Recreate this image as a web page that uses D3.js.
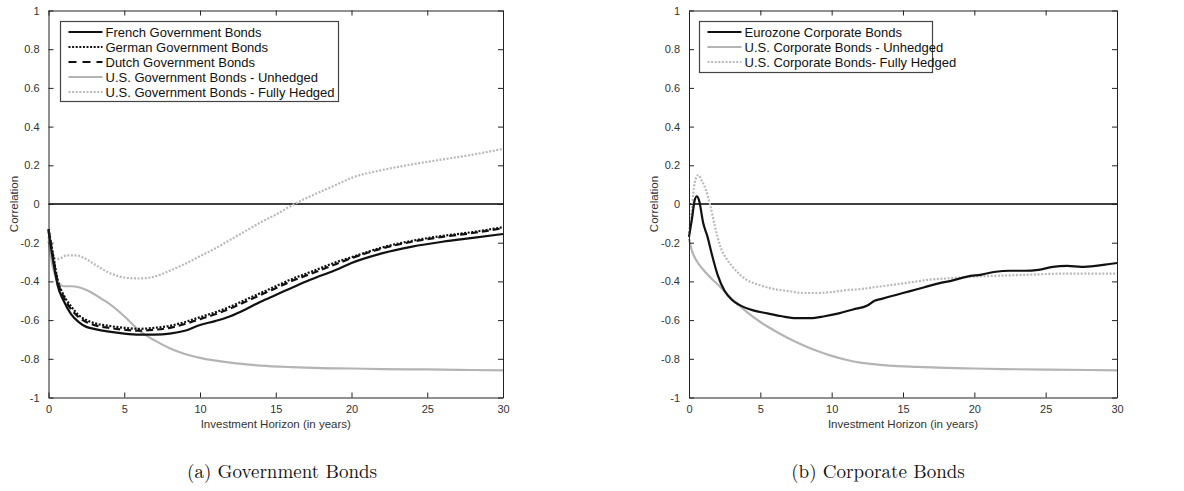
<!DOCTYPE html>
<html><head><meta charset="utf-8">
<script src="https://cdn.jsdelivr.net/npm/d3@7"></script>
<style>
html,body{margin:0;padding:0;background:#fff;}
svg{display:block;}
</style></head>
<body>
<svg id="chart" width="1184" height="491"></svg>
<script>
// ---------- data ----------
const xTicks = [0, 5, 10, 15, 20, 25, 30];
const yTicks = [1, 0.8, 0.6, 0.4, 0.2, 0, -0.2, -0.4, -0.6, -0.8, -1];
const yTickLabels = ["1", "0.8", "0.6", "0.4", "0.2", "0", "-0.2", "-0.4", "-0.6", "-0.8", "-1"];

// (a) Government bonds
const govX = [0, 0.3, 0.6, 1.0, 1.5, 2, 2.5, 3, 4, 5, 6, 7, 8, 9, 10, 11, 12, 13, 14, 15, 16, 17, 18, 19, 20, 22, 24, 26, 28, 30];
const frenchGov = [-0.14, -0.29, -0.42, -0.50, -0.57, -0.61, -0.635, -0.645, -0.66, -0.67, -0.675, -0.675, -0.67, -0.655, -0.625, -0.605, -0.58, -0.545, -0.505, -0.47, -0.435, -0.40, -0.37, -0.34, -0.305, -0.255, -0.22, -0.195, -0.175, -0.155];
const germanGov = [-0.13, -0.26, -0.39, -0.47, -0.53, -0.575, -0.60, -0.615, -0.63, -0.64, -0.645, -0.64, -0.63, -0.61, -0.585, -0.56, -0.53, -0.495, -0.46, -0.425, -0.39, -0.36, -0.33, -0.30, -0.275, -0.225, -0.19, -0.165, -0.145, -0.12];
const dutchGov = [-0.13, -0.27, -0.40, -0.48, -0.545, -0.585, -0.61, -0.625, -0.64, -0.65, -0.655, -0.65, -0.64, -0.62, -0.595, -0.57, -0.54, -0.505, -0.47, -0.435, -0.40, -0.37, -0.34, -0.31, -0.28, -0.23, -0.195, -0.17, -0.15, -0.125];

const usGovUnhX = [0, 0.3, 0.7, 1, 1.5, 2, 2.5, 3, 3.5, 4, 5, 6, 7, 8, 9, 10, 12, 14, 16, 18, 20, 22, 25, 28, 30];
const usGovUnh = [-0.19, -0.33, -0.41, -0.425, -0.425, -0.43, -0.445, -0.465, -0.49, -0.515, -0.58, -0.655, -0.705, -0.745, -0.775, -0.795, -0.82, -0.835, -0.843, -0.848, -0.85, -0.853, -0.855, -0.858, -0.86];

const usGovHedX = [0, 0.2, 0.5, 0.8, 1.2, 1.8, 2.5, 3, 4, 5, 6, 7, 8, 9, 10, 11, 12, 13, 14, 15, 16, 17, 18, 19, 20, 22, 24, 26, 28, 30];
const usGovHed = [-0.17, -0.24, -0.285, -0.28, -0.265, -0.265, -0.285, -0.31, -0.355, -0.38, -0.385, -0.375, -0.345, -0.31, -0.27, -0.23, -0.185, -0.14, -0.095, -0.055, -0.01, 0.03, 0.065, 0.10, 0.135, 0.175, 0.205, 0.23, 0.255, 0.285];

// (b) Corporate bonds
const euroCorpX = [0, 0.2, 0.4, 0.55, 0.7, 1.0, 1.3, 1.6, 2.0, 2.5, 3.0, 3.5, 4.5, 5.5, 6.5, 7.5, 8.5, 9.5, 10.5, 11.5, 12.5, 13, 13.5, 14.5, 15.5, 16.5, 17.5, 18.5, 19.5, 20.5, 21.5, 22.5, 23.5, 24.5, 25.5, 26.5, 27.5, 28.5, 29.5, 30];
const euroCorp = [-0.17, -0.08, 0.02, 0.04, 0.02, -0.10, -0.17, -0.26, -0.365, -0.45, -0.495, -0.52, -0.55, -0.565, -0.58, -0.59, -0.59, -0.58, -0.565, -0.545, -0.525, -0.50, -0.49, -0.47, -0.45, -0.43, -0.41, -0.395, -0.375, -0.365, -0.35, -0.345, -0.345, -0.34, -0.325, -0.32, -0.325, -0.32, -0.31, -0.305];

const usCorpUnhX = [0, 0.2, 0.5, 1, 1.5, 2, 3, 4, 5, 6, 7, 8, 9, 10, 11, 12, 13, 14, 16, 18, 20, 22, 25, 28, 30];
const usCorpUnh = [-0.18, -0.24, -0.29, -0.34, -0.38, -0.415, -0.49, -0.555, -0.61, -0.655, -0.695, -0.73, -0.76, -0.785, -0.805, -0.82, -0.828, -0.835, -0.842, -0.847, -0.85, -0.853, -0.856, -0.858, -0.86];

const usCorpHedX = [0, 0.2, 0.4, 0.65, 0.9, 1.2, 1.5, 1.8, 2.2, 2.6, 3.0, 3.5, 4, 5, 6, 7, 8, 9, 10, 11, 12, 13, 14, 15, 16, 17, 18, 19, 20, 22, 24, 26, 28, 30];
const usCorpHed = [-0.15, -0.02, 0.11, 0.15, 0.12, 0.07, -0.01, -0.11, -0.22, -0.28, -0.32, -0.36, -0.39, -0.42, -0.44, -0.45, -0.46, -0.46, -0.455, -0.445, -0.44, -0.43, -0.42, -0.41, -0.40, -0.39, -0.385, -0.38, -0.375, -0.37, -0.365, -0.36, -0.36, -0.36];

const govNames = ["French Government Bonds", "German Government Bonds", "Dutch Government Bonds", "U.S. Government Bonds - Unhedged", "U.S. Government Bonds - Fully Hedged"];
const corpNames = ["Eurozone Corporate Bonds", "U.S. Corporate Bonds - Unhedged", "U.S. Corporate Bonds- Fully Hedged"];
const captions = ["(a) Government Bonds", "(b) Corporate Bonds"];
const xLabel = "Investment Horizon (in years)";
const yLabel = "Correlation";

// ---------- styles ----------
const ST = {
  solidBlack: {stroke: "#111", width: 2.2, dash: null},
  dotBlack:   {stroke: "#111", width: 2.2, dash: "2,1.6"},
  dashBlack:  {stroke: "#111", width: 2.2, dash: "7,4"},
  solidGray:  {stroke: "#b4b4b4", width: 2.2, dash: null},
  dotGray:    {stroke: "#b9b9b9", width: 2.2, dash: "2,1.6"}
};

const svg = d3.select("#chart");
const FONT = "'Liberation Sans', Arial, Helvetica, sans-serif";

function panel(cfg) {
  const x = d3.scaleLinear().domain([0, 30]).range([cfg.x0, cfg.x1]);
  const y = d3.scaleLinear().domain([-1, 1]).range([cfg.yb, cfg.yt]);
  const g = svg.append("g");

  // zero line
  g.append("line").attr("x1", x(0)).attr("x2", x(30)).attr("y1", y(0)).attr("y2", y(0))
    .attr("stroke", "#000").attr("stroke-width", 1.3);

  // series
  const line = d3.line().x(d => x(d[0])).y(d => y(d[1])).curve(d3.curveMonotoneX);
  // draw order: gray first then black
  cfg.series.slice().reverse().forEach(s => {
    const pts = s.xs.map((v, i) => [v, s.ys[i]]);
    const p = g.append("path").datum(pts).attr("d", line)
      .attr("fill", "none").attr("stroke", s.st.stroke).attr("stroke-width", s.st.width)
      .attr("stroke-linejoin", "round");
    if (s.st.dash) p.attr("stroke-dasharray", s.st.dash);
  });

  // axes (ticks inside, on all sides)
  const tl = 5;
  const axColor = "#222";
  const axB = d3.axisBottom(x).tickValues(xTicks).tickSizeInner(-tl).tickSizeOuter(0).tickPadding(8);
  const axT = d3.axisTop(x).tickValues(xTicks).tickSizeInner(-tl).tickSizeOuter(0).tickFormat("");
  const axL = d3.axisLeft(y).tickValues(yTicks).tickSizeInner(-tl).tickSizeOuter(0).tickPadding(9)
      .tickFormat((d, i) => yTickLabels[i]);
  const axR = d3.axisRight(y).tickValues(yTicks).tickSizeInner(-tl).tickSizeOuter(0).tickFormat("");
  const gb = g.append("g").attr("transform", `translate(0,${cfg.yb})`).call(axB);
  const gt = g.append("g").attr("transform", `translate(0,${cfg.yt})`).call(axT);
  const gl = g.append("g").attr("transform", `translate(${cfg.x0},0)`).call(axL);
  const gr = g.append("g").attr("transform", `translate(${cfg.x1},0)`).call(axR);
  [gb, gt, gl, gr].forEach(a => {
    a.select(".domain").attr("stroke", axColor).attr("stroke-width", 1);
    a.selectAll(".tick line").attr("stroke", axColor);
    a.selectAll("text").attr("fill", "#333").style("font-family", FONT).style("font-size", "11px");
  });

  // axis labels
  g.append("text").attr("x", (cfg.x0 + cfg.x1) / 2).attr("y", cfg.yb + 30)
    .attr("text-anchor", "middle").style("font-family", FONT).style("font-size", "11.5px").attr("fill", "#333")
    .text(xLabel);
  g.append("text").attr("transform", `translate(${cfg.ylabX},${y(0)}) rotate(-90)`)
    .attr("text-anchor", "middle").attr("dy", "0.35em").style("font-family", FONT).style("font-size", "11.5px").attr("fill", "#333")
    .text(yLabel);

  // legend
  const L = cfg.legend;
  const lg = g.append("g");
  lg.append("rect").attr("x", L.x).attr("y", L.y).attr("width", L.w).attr("height", L.h)
    .attr("fill", "#fff").attr("stroke", "#444").attr("stroke-width", 1.2);
  cfg.series.forEach((s, i) => {
    const cy = L.y + 10.5 + i * 15;
    const ln = lg.append("line").attr("x1", L.x + 8).attr("x2", L.x + 42).attr("y1", cy).attr("y2", cy)
      .attr("stroke", s.st.stroke).attr("stroke-width", s.st.width);
    if (s.st.dash) ln.attr("stroke-dasharray", s.st.dash === "7,4" ? "8,6" : s.st.dash);
    lg.append("text").attr("x", L.x + 45).attr("y", cy).attr("dy", "0.35em")
      .style("font-family", FONT).style("font-size", "13px").attr("fill", "#111").text(s.name);
  });

  // caption
  svg.append("text").attr("x", cfg.capX).attr("y", 478).attr("text-anchor", "middle")
    .style("font-family", "'Latin Modern Roman','CMU Serif','Liberation Serif','DejaVu Serif',serif")
    .style("font-size", "19px").attr("fill", "#111").text(cfg.caption);
}

panel({
  x0: 48.5, x1: 503, yt: 10.5, yb: 397.5, ylabX: 14, capX: 282,
  caption: captions[0],
  legend: {x: 60.5, y: 21.5, w: 278, h: 80},
  series: [
    {name: govNames[0], xs: govX, ys: frenchGov, st: ST.solidBlack},
    {name: govNames[1], xs: govX, ys: germanGov, st: ST.dotBlack},
    {name: govNames[2], xs: govX, ys: dutchGov, st: ST.dashBlack},
    {name: govNames[3], xs: usGovUnhX, ys: usGovUnh, st: ST.solidGray},
    {name: govNames[4], xs: usGovHedX, ys: usGovHed, st: ST.dotGray}
  ]
});

panel({
  x0: 689, x1: 1117, yt: 10.5, yb: 397.5, ylabX: 654, capX: 878,
  caption: captions[1],
  legend: {x: 699.5, y: 21.5, w: 233, h: 51},
  series: [
    {name: corpNames[0], xs: euroCorpX, ys: euroCorp, st: ST.solidBlack},
    {name: corpNames[1], xs: usCorpUnhX, ys: usCorpUnh, st: ST.solidGray},
    {name: corpNames[2], xs: usCorpHedX, ys: usCorpHed, st: ST.dotGray}
  ]
});
</script>
</body></html>
